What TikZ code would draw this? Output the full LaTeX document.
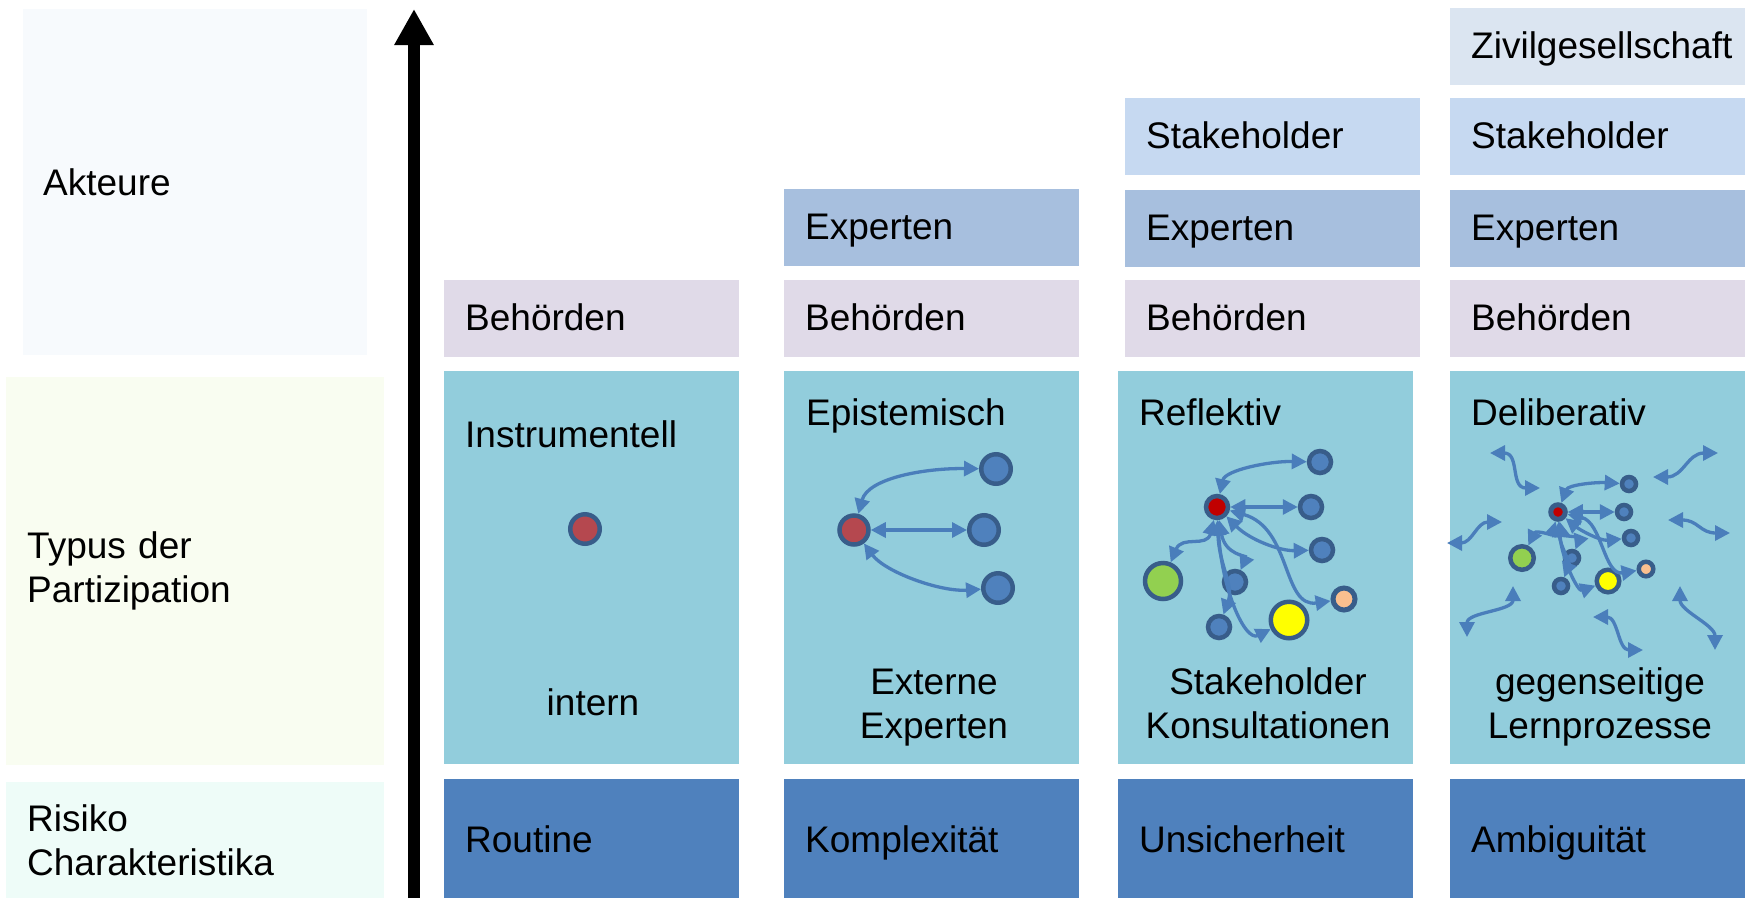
\documentclass[tikz,border=0pt]{standalone}
\usepackage{fontspec}
\setmainfont{Liberation Sans}
\usetikzlibrary{arrows.meta}

\definecolor{akbg}{HTML}{F7FAFD}
\definecolor{typbg}{HTML}{F9FDF1}
\definecolor{risbg}{HTML}{EEFCF8}
\definecolor{behcol}{HTML}{E0DAE8}
\definecolor{expcol}{HTML}{A7BFDE}
\definecolor{stkcol}{HTML}{C6D9F1}
\definecolor{zivcol}{HTML}{DBE5F1}
\definecolor{typcol}{HTML}{92CDDC}
\definecolor{riscol}{HTML}{4F81BD}
\definecolor{ringcol}{HTML}{385D8A}
\definecolor{nodeblue}{HTML}{4F81BD}
\definecolor{oldred}{HTML}{B5484F}
\definecolor{brightred}{HTML}{C00000}
\definecolor{nodegreen}{HTML}{92D050}
\definecolor{nodeyellow}{HTML}{FFFF00}
\definecolor{nodepeach}{HTML}{FABF8F}
\definecolor{linkcol}{HTML}{4A7EBB}

\begin{document}
\begin{tikzpicture}[x=1pt, y=-1pt, font=\fontsize{37}{44}\selectfont,
    sidebox/.style={anchor=north west, inner xsep=21pt, inner ysep=0pt, text width=336pt, align=left},
    rowcell/.style={anchor=north west, inner xsep=21pt, inner ysep=0pt, text width=253pt, align=left,
        minimum height=77pt, text height=25pt, text depth=2pt},
    typfield/.style={anchor=north west, inner sep=0pt, minimum width=295pt, minimum height=393pt, fill=typcol},
    typtitle/.style={anchor=base west, inner sep=0pt},
    typfoot/.style={anchor=base, inner sep=0pt, align=center},
    pnode/.style={circle, draw=ringcol, line width=4.5pt, inner sep=0pt, minimum size=#1},
    plink/.style={draw=linkcol, line width=3.3pt,
        {Triangle[length=15pt,width=15pt]}-{Triangle[length=15pt,width=15pt]}}]

    \useasboundingbox (0,0) rectangle (1749,898);

    % Left column: what each row stands for
    \node[sidebox, fill=akbg, inner xsep=20pt, text width=304pt, minimum height=346pt] (akteure) at (23,9) {Akteure};
    \node[sidebox, fill=typbg, minimum height=388pt] (typus) at (6,377) {Typus der\\Partizipation};
    \node[sidebox, fill=risbg, minimum height=116pt] (risiko) at (6,782) {Risiko\\Charakteristika};

    % The rising axis
    \coordinate (axbot) at (414,898);
    \coordinate (axtop) at (414,9);
    \draw[line width=12pt, -{Triangle[length=36pt,width=37pt]}] (axbot) -- (axtop);

    % Actors, stacked per column
    \node[rowcell, fill=behcol] (beh1) at (444,280) {Behörden};
    \node[rowcell, fill=expcol] (exp2) at (784,189) {Experten};
    \node[rowcell, fill=behcol] (beh2) at (784,280) {Behörden};
    \node[rowcell, fill=stkcol] (stk3) at (1125,98) {Stakeholder};
    \node[rowcell, fill=expcol] (exp3) at (1125,190) {Experten};
    \node[rowcell, fill=behcol] (beh3) at (1125,280) {Behörden};
    \node[rowcell, fill=zivcol] (ziv4) at (1450,8) {Zivilgesellschaft};
    \node[rowcell, fill=stkcol] (stk4) at (1450,98) {Stakeholder};
    \node[rowcell, fill=expcol] (exp4) at (1450,190) {Experten};
    \node[rowcell, fill=behcol] (beh4) at (1450,280) {Behörden};

    % Type of participation
    \node[typfield] (typ1) at (444,371) {};
    \node[typfield] (typ2) at (784,371) {};
    \node[typfield] (typ3) at (1118,371) {};
    \node[typfield] (typ4) at (1450,371) {};
    \node[typtitle] (ti1) at (465,447) {Instrumentell};
    \node[typtitle] (ti2) at (806,425) {Epistemisch};
    \node[typtitle] (ti3) at (1139,425) {Reflektiv};
    \node[typtitle] (ti4) at (1471,425) {Deliberativ};
    \node[typfoot] (ft1) at (593,715) {intern};
    \node[typfoot] (ft2) at (934,738) {Externe\\Experten};
    \node[typfoot] (ft3) at (1268,738) {Stakeholder\\Konsultationen};
    \node[typfoot] (ft4) at (1600,738) {gegenseitige\\Lernprozesse};

    % Risk characteristics
    \node[rowcell, fill=riscol, minimum height=119pt, text height=28pt, text depth=0pt] (ris1) at (444,779) {Routine};
    \node[rowcell, fill=riscol, minimum height=119pt, text height=28pt, text depth=0pt] (ris2) at (784,779) {Komplexität};
    \node[rowcell, fill=riscol, minimum height=119pt, text height=28pt, text depth=0pt] (ris3) at (1118,779) {Unsicherheit};
    \node[rowcell, fill=riscol, minimum height=119pt, text height=28pt, text depth=0pt] (ris4) at (1450,779) {Ambiguität};

    % Instrumentell: one actor
    \node[pnode=29.5pt, fill=oldred] (c1r) at (585,529) {};

    % Epistemisch: experts around the authority
    \node[pnode=29pt, fill=oldred] (c2r) at (854,530) {};
    \node[pnode=29.5pt, fill=nodeblue] (c2a) at (996,469) {};
    \node[pnode=29.5pt, fill=nodeblue] (c2b) at (984,530) {};
    \node[pnode=29.5pt, fill=nodeblue] (c2c) at (998,588) {};
    \draw[plink] (c2r) .. controls (868,478) and (925,468) .. (c2a);
    \draw[plink] (c2r) -- (c2b);
    \draw[plink] (c2r) .. controls (885,572) and (940,592) .. (c2c);

    % Reflektiv
    \node[pnode=22pt, fill=brightred] (c3r) at (1217,507) {};
    \node[pnode=22pt, fill=nodeblue] (c3a) at (1320,462) {};
    \node[pnode=22pt, fill=nodeblue] (c3b) at (1311,507) {};
    \node[pnode=22pt, fill=nodeblue] (c3c) at (1322,550) {};
    \node[pnode=36pt, fill=nodegreen] (c3g) at (1163,581) {};
    \node[pnode=22pt, fill=nodeblue] (c3e) at (1235,582) {};
    \node[pnode=22pt, fill=nodeblue] (c3f) at (1219,627) {};
    \node[pnode=36.5pt, fill=nodeyellow] (c3y) at (1289,620) {};
    \node[pnode=22pt, fill=nodepeach, line width=5pt] (c3p) at (1344,599) {};
    \draw[plink] (c3r) .. controls (1225,470) and (1270,461) .. (c3a);
    \draw[plink] (c3r) -- (c3b);
    \draw[plink] (c3r) .. controls (1250,540) and (1280,551) .. (c3c);
    \draw[plink] (c3r) .. controls (1207,548) and (1182,535) .. (c3g);
    \draw[plink] (c3r) .. controls (1225,555) and (1247,556) .. (c3e);
    \draw[plink] (c3r) .. controls (1219,565) and (1234,585) .. (c3f);
    \draw[plink] (c3r) .. controls (1222,590) and (1245,642) .. (c3y);
    \draw[plink] (c3r) .. controls (1292,528) and (1282,608) .. (c3p);

    % Deliberativ
    \node[pnode=14.5pt, fill=brightred, line width=5pt] (c4r) at (1558,512) {};
    \node[pnode=14pt, fill=nodeblue] (c4a) at (1629,484) {};
    \node[pnode=14pt, fill=nodeblue] (c4b) at (1624,512) {};
    \node[pnode=14pt, fill=nodeblue] (c4c) at (1631,538) {};
    \node[pnode=23.5pt, fill=nodegreen] (c4g) at (1522,558) {};
    \node[pnode=14pt, fill=nodeblue] (c4e) at (1572,558) {};
    \node[pnode=14pt, fill=nodeblue] (c4f) at (1561,586) {};
    \node[pnode=22.5pt, fill=nodeyellow] (c4y) at (1608,581) {};
    \node[pnode=14.5pt, fill=nodepeach] (c4p) at (1646,569) {};
    \draw[plink] (c4r) .. controls (1568,485) and (1595,482) .. (c4a);
    \draw[plink] (c4r) -- (c4b);
    \draw[plink] (c4r) .. controls (1580,530) and (1600,541) .. (c4c);
    \draw[plink] (c4r) .. controls (1552,535) and (1536,530) .. (c4g);
    \draw[plink] (c4r) .. controls (1562,535) and (1580,538) .. (c4e);
    \draw[plink] (c4r) .. controls (1560,545) and (1570,562) .. (c4f);
    \draw[plink] (c4r) .. controls (1562,560) and (1578,592) .. (c4y);
    \draw[plink] (c4r) .. controls (1602,522) and (1604,576) .. (c4p);

    % free exchange all round
    \coordinate (wa1) at (1490,453); \coordinate (wb1) at (1540,488);
    \coordinate (wa2) at (1653,477); \coordinate (wb2) at (1718,453);
    \coordinate (wa3) at (1447,543); \coordinate (wb3) at (1502,522);
    \coordinate (wa4) at (1668,520); \coordinate (wb4) at (1730,533);
    \coordinate (wa5) at (1467,637); \coordinate (wb5) at (1513,586);
    \coordinate (wa6) at (1593,617); \coordinate (wb6) at (1643,650);
    \coordinate (wa7) at (1680,586); \coordinate (wb7) at (1715,650);
    \draw[plink] (wa1) .. controls (1520,453) and (1510,488) .. (wb1);
    \draw[plink] (wa2) .. controls (1683,477) and (1688,453) .. (wb2);
    \draw[plink] (wa3) .. controls (1472,543) and (1477,522) .. (wb3);
    \draw[plink] (wa4) .. controls (1698,520) and (1700,533) .. (wb4);
    \draw[plink] (wa5) .. controls (1467,612) and (1513,611) .. (wb5);
    \draw[plink] (wa6) .. controls (1618,617) and (1618,650) .. (wb6);
    \draw[plink] (wa7) .. controls (1680,611) and (1715,625) .. (wb7);
\end{tikzpicture}
\end{document}
